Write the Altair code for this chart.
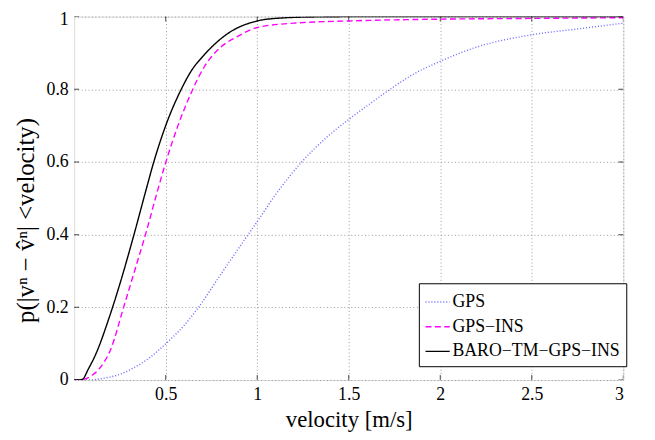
import altair as alt
import pandas as pd

# ---- data ----
gps_x = [0, 0.08, 0.15, 0.25, 0.33, 0.414, 0.5, 0.6, 0.676, 0.8, 0.95, 1.0, 1.1, 1.243, 1.38, 1.5, 1.61, 1.712, 1.855, 2.0, 2.198, 2.5, 2.75, 3.0]
gps_y = [0, 0, 0.004, 0.016, 0.035, 0.062, 0.1, 0.15, 0.198, 0.29, 0.4, 0.436, 0.51, 0.6, 0.668, 0.717, 0.758, 0.795, 0.842, 0.877, 0.916, 0.95, 0.966, 0.982]

ins_x = [0, 0.03, 0.06, 0.1, 0.14, 0.2, 0.27, 0.33, 0.395, 0.455, 0.495, 0.567, 0.639, 0.711, 0.801, 0.891, 1.0, 1.2, 1.5, 2.0, 2.5, 3.0]
ins_y = [0, 0, 0.003, 0.014, 0.033, 0.085, 0.2, 0.3, 0.41, 0.52, 0.59, 0.7, 0.79, 0.862, 0.916, 0.945, 0.970, 0.982, 0.988, 0.993, 0.995, 0.997]

baro_x = [0, 0.02, 0.045, 0.077, 0.117, 0.19, 0.25, 0.324, 0.391, 0.432, 0.5, 0.585, 0.639, 0.711, 0.838, 1.0, 1.1, 1.3, 1.6, 2.0, 3.0]
baro_y = [0, 0, 0.002, 0.03, 0.07, 0.17, 0.265, 0.395, 0.52, 0.595, 0.7, 0.8, 0.85, 0.895, 0.953, 0.988, 0.995, 0.999, 1, 1, 1]

series = ["GPS", "GPS\u2212INS", "BARO\u2212TM\u2212GPS\u2212INS"]
colors = ["#6666ff", "#ff00ff", "#000000"]
dashes = [[1, 2], [6, 3.5], [1, 0]]

x_ticks = [0.5, 1, 1.5, 2, 2.5, 3]
y_ticks = [0, 0.2, 0.4, 0.6, 0.8, 1]

rows = []
for name, xs, ys in zip(series, [gps_x, ins_x, baro_x], [gps_y, ins_y, baro_y]):
    for i, (a, b) in enumerate(zip(xs, ys)):
        rows.append({"series": name, "v": a, "p": b, "i": i})
df = pd.DataFrame(rows)

tx = pd.DataFrame([{"v": a, "p": b} for a in x_ticks for b in [0, 1]])
ty = pd.DataFrame([{"v": a, "p": b} for b in y_ticks for a in [0, 3]])

FONT = "'Liberation Serif', 'Times New Roman', Times, serif"
xs = alt.Scale(domain=[0, 3], nice=False, zero=False)
ys = alt.Scale(domain=[0, 1], nice=False)

lines = alt.Chart(df).mark_line(strokeWidth=1.4, clip=True, interpolate="monotone").encode(
    x=alt.X("v:Q", scale=xs,
            axis=alt.Axis(values=x_ticks, title="velocity  [m/s]", format="~g",
                          grid=True, ticks=False, domain=False,
                          labelFont=FONT, labelFontSize=18, labelColor="black",
                          labelPadding=6, titleFont=FONT, titleFontSize=23,
                          titleFontWeight="normal", titleColor="black", titlePadding=5,
                          gridColor="#999999", gridDash=[1, 2.5], gridWidth=1)),
    y=alt.Y("p:Q", scale=ys,
            axis=alt.Axis(values=y_ticks, title="p(|v\u207f \u2212 v\u0302\u207f|  <velocity)",
                          format="~g", grid=True, ticks=False, domain=False,
                          labelFont=FONT, labelFontSize=18, labelColor="black",
                          labelPadding=6,
                          labelOffset={"condition": {"test": "datum.value == 1", "value": 3}, "value": 0},
                          titleFont=FONT, titleFontSize=25,
                          titleFontWeight="normal", titleColor="black", titlePadding=8,
                          titleY=206,
                          gridColor="#999999", gridDash=[1, 2.5], gridWidth=1)),
    color=alt.Color("series:N", scale=alt.Scale(domain=series, range=colors),
                    legend=alt.Legend(title=None, orient="none", legendX=349, legendY=270,
                                      labelFont=FONT, labelFontSize=18, labelColor="black",
                                      labelLimit=400,
                                      symbolType="stroke", symbolSize=600, symbolStrokeWidth=1.4,
                                      strokeColor="black", fillColor="white", padding=6,
                                      rowPadding=3, labelOffset=2, cornerRadius=0)),
    strokeDash=alt.StrokeDash("series:N", scale=alt.Scale(domain=series, range=dashes), legend=None),
    order="i:Q",
)

xt = alt.Chart(tx).mark_tick(orient="vertical", size=10, thickness=1, color="black", clip=True).encode(
    x=alt.X("v:Q", scale=xs), y=alt.Y("p:Q", scale=ys))
yt = alt.Chart(ty).mark_tick(orient="horizontal", size=10, thickness=1, color="black", clip=True).encode(
    x=alt.X("v:Q", scale=xs), y=alt.Y("p:Q", scale=ys))

chart = alt.layer(xt, yt, lines).properties(
    width=556, height=368,
    autosize=alt.AutoSizeParams(type="none"),
    padding={"left": 67, "top": 6, "right": 24, "bottom": 58},
).configure_view(stroke="black", strokeWidth=1.2).configure(background="white")

chart.save("out.html", embed_options={"renderer": "svg", "actions": False})
